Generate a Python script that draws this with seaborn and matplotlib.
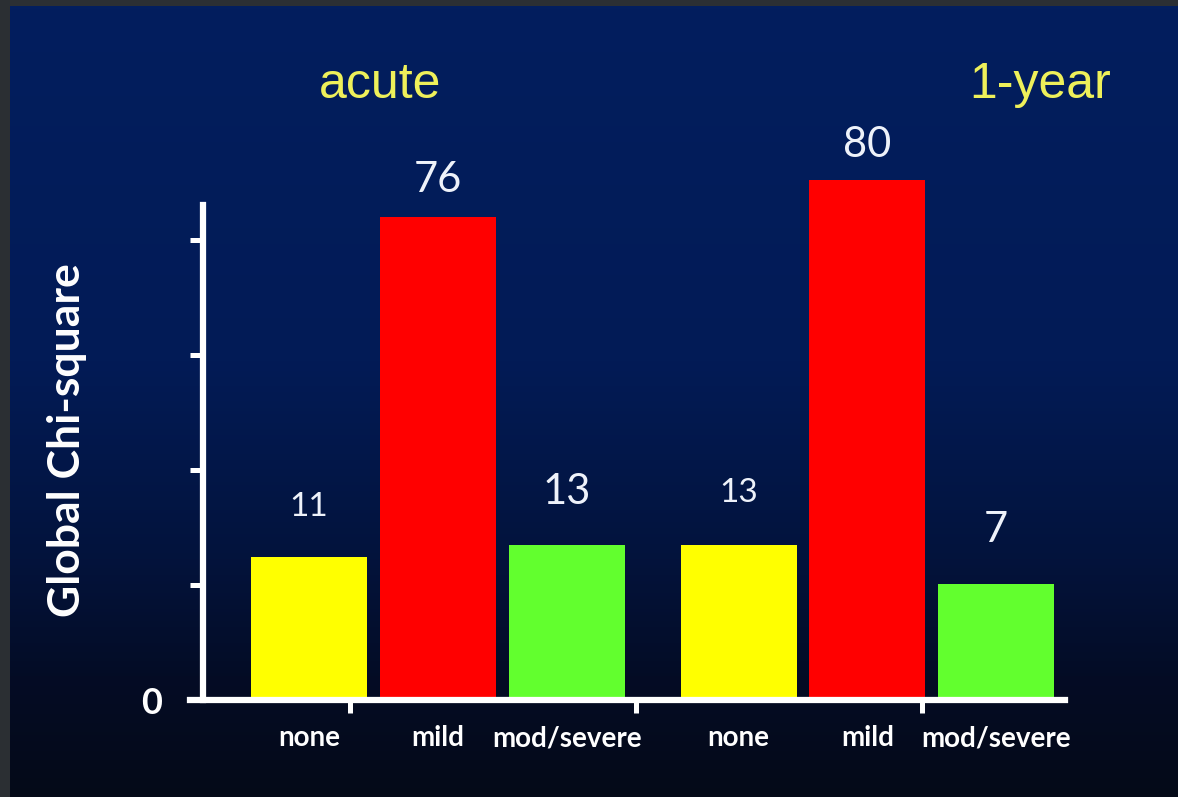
import matplotlib
matplotlib.use('Agg')
import matplotlib.pyplot as plt
from matplotlib.colors import LinearSegmentedColormap
import numpy as np
import pandas as pd
import seaborn as sns

# data
periods = ['acute', '1-year']
severity = ['none', 'mild', 'mod/severe']
chi_square = [[11, 76, 13], [13, 80, 7]]          # printed value labels
bar_height = [[1.24, 4.20, 1.35], [1.35, 4.52, 1.01]]  # drawn height, in y-tick units
y_ticks = [0, 1, 2, 3, 4]
y_ticklabels = ['0', '', '', '', '']

colores = {'none': '#ffff00', 'mild': '#ff0000', 'mod/severe': '#62ff2e'}

rows = []
for i, p in enumerate(periods):
    for j, s in enumerate(severity):
        rows.append({'Periodo': p, 'Severidad': s, 'Altura': bar_height[i][j],
                     'Chi': chi_square[i][j]})
df = pd.DataFrame(rows)

sns.set_theme(style='ticks')
plt.rcParams['font.family'] = ['Lato', 'DejaVu Sans']

W, H = 1178, 797
fig = plt.figure(figsize=(W / 100, H / 100), dpi=100, facecolor='#2b2f33')

# gradient background (navy to almost black)
bg = fig.add_axes([10 / W, 0, 1 - 10 / W, 1 - 6 / H])
cmap = LinearSegmentedColormap.from_list('fondo', [
    (0.0, '#021e5e'), (0.45, '#021b56'), (0.7, '#03133c'),
    (0.85, '#040c25'), (1.0, '#050a18')])
bg.imshow(np.linspace(0, 1, 256)[:, None], aspect='auto', cmap=cmap, extent=[0, 1, 0, 1])
bg.set_axis_off()

# main axes: px 190..1065 horizontally, 120..700 vertically (115 px per y unit)
ax = fig.add_axes([190 / W, 1 - 700 / H, 875 / W, 580 / H])
ax.set_facecolor('none')

sns.barplot(data=df, x='Periodo', y='Altura', hue='Severidad',
            order=periods, hue_order=severity, palette=colores,
            width=0.9, gap=0.1, saturation=1, legend=False,
            edgecolor='none', linewidth=0, ax=ax)

ax.set_xlim(-0.577, 1.46)
ax.set_ylim(0, 580 / 115)

# value labels above bars
label_size = [[24, 30, 30], [24, 30, 30]]
label_offset = [[36, 27, 38], [37, 25, 39]]
for j, cont in enumerate(ax.containers):
    for i, bar in enumerate(cont):
        ax.annotate(f'{chi_square[i][j]}',
                    (bar.get_x() + bar.get_width() / 2, bar.get_height()),
                    xytext=(0, label_offset[i][j]), textcoords='offset points',
                    ha='center', va='center', color='#eef2fa',
                    fontsize=label_size[i][j], annotation_clip=False)

# axes styling
for side in ['top', 'right']:
    ax.spines[side].set_visible(False)
for side in ['left', 'bottom']:
    ax.spines[side].set_color('white')
    ax.spines[side].set_linewidth(4.5)
ax.spines['left'].set_position(('axes', 13 / 875))
ax.spines['left'].set_bounds(0, 495 / 115)

ax.set_yticks(y_ticks)
ax.set_yticklabels(y_ticklabels)
ax.tick_params(axis='y', direction='out', length=9.5, width=3.6, color='white',
               labelcolor='white', labelsize=26, pad=20)
for lab in ax.get_yticklabels():
    lab.set_fontweight('bold')

# downward separators and category labels
ax.set_xticks([-0.205, 0.461, 1.127])
ax.set_xticklabels([])
ax.tick_params(axis='x', which='major', direction='out', length=9, width=3.6, color='white')
centros = [g + d for g in range(len(periods)) for d in (-0.3, 0, 0.3)]
ax.set_xticks(centros, minor=True)
ax.set_xticklabels(severity * len(periods), minor=True)
ax.tick_params(axis='x', which='minor', length=0, pad=18, labelsize=20,
               labelcolor='white')
for lab in ax.get_xticklabels(minor=True):
    lab.set_fontweight('bold')
ax.set_xlabel('')
ax.set_ylabel('')

fig.text(67 / W, 1 - 440 / H, 'Global Chi-square', rotation=90, ha='center', va='center',
         color='white', fontsize=32, fontweight='bold')

fig.text(380 / W, 1 - 85 / H, periods[0], ha='center', va='center', color='#eef05a',
         fontsize=36, family=['Liberation Sans', 'DejaVu Sans'])
fig.text(1040 / W, 1 - 85 / H, periods[1], ha='center', va='center', color='#eef05a',
         fontsize=36, family=['Liberation Sans', 'DejaVu Sans'])

plt.savefig('out.png', dpi=100, facecolor=fig.get_facecolor())
plt.close()
